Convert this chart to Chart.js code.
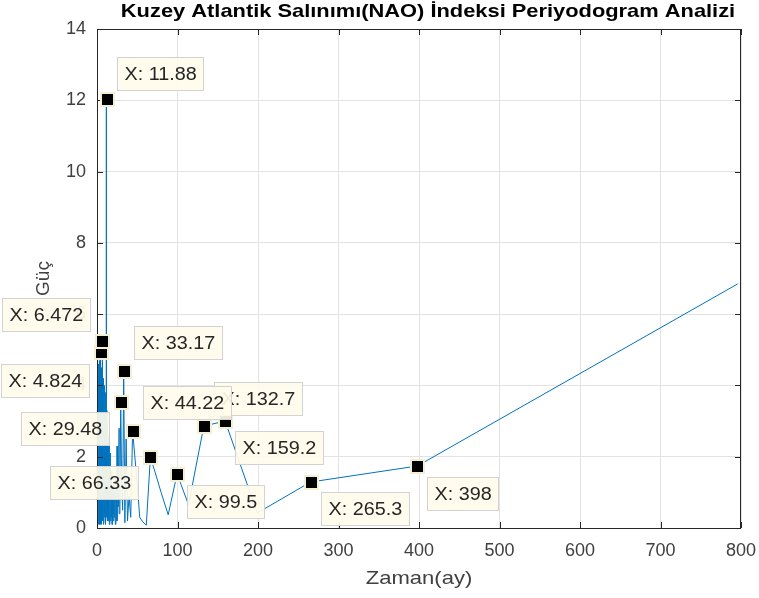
<!DOCTYPE html>
<html>
<head>
<meta charset="utf-8">
<script src="https://cdn.jsdelivr.net/npm/chart.js@4.4.1/dist/chart.umd.min.js"></script>
<style>
  html, body { margin: 0; padding: 0; background: #fff; }
</style>
</head>
<body>
<canvas id="grafikNAO" width="759" height="598"></canvas>
<script>
// Periyot (ay) ve güç değerleri
const periyot = [
    796, 398, 265.3, 199, 159.2, 132.7, 113.7, 99.5, 88.44, 79.6,
    72.36, 66.33, 61.23, 56.86, 53.07, 49.75, 46.82, 44.22, 41.89, 39.8,
    37.9, 36.18, 34.61, 33.17, 31.84, 30.62, 29.48, 28.43, 27.45, 26.53,
    25.68, 24.88, 24.12, 23.41, 22.74, 22.11, 21.51, 20.95, 20.41, 19.9,
    19.41, 18.95, 18.51, 18.09, 17.69, 17.3, 16.94, 16.58, 16.24, 15.92,
    15.61, 15.31, 15.02, 14.74, 14.47, 14.21, 13.96, 13.72, 13.49, 13.27,
    13.05, 12.84, 12.63, 12.44, 12.25, 12.06, 11.88, 11.71, 11.54, 11.37,
    11.21, 11.06, 10.9, 10.76, 10.61, 10.47, 10.34, 10.21, 10.08, 9.95,
    9.71, 9.48, 9.26, 9.05, 8.84, 8.65, 8.47, 8.29, 8.12, 7.96,
    7.8, 7.65, 7.51, 7.37, 7.24, 7.11, 6.98, 6.86, 6.75, 6.63,
    6.52, 6.472, 6.42, 6.32, 6.22, 6.12, 6.03, 5.94, 5.85, 5.77,
    5.69, 5.61, 5.53, 5.45, 5.38, 5.31, 5.24, 5.17, 5.1, 5.04,
    4.975, 4.91, 4.824, 4.74, 4.65, 4.57, 4.5, 4.42, 4.35, 4.28,
    4.21, 4.15, 4.08, 4.02, 3.96, 3.9, 3.85, 3.79, 3.74, 3.69,
    3.63, 3.59, 3.54, 3.49, 3.45, 3.4, 3.36, 3.32, 3.28, 3.24,
    3.2, 3.16, 3.12, 3.09, 3.05, 3.02, 2.98, 2.95, 2.92, 2.88,
    2.85, 2.82, 2.79, 2.76, 2.74, 2.71, 2.68, 2.65, 2.63, 2.6,
    2.58, 2.55, 2.53, 2.5, 2.48, 2.46, 2.43, 2.41, 2.39, 2.37,
    2.35, 2.33, 2.31, 2.29, 2.27, 2.25, 2.23, 2.21, 2.19, 2.17,
    2.16, 2.14, 2.12, 2.11, 2.09, 2.07, 2.06, 2.04, 2.03, 2.01,
    2.0
];

const guc = [
    6.85, 1.74, 1.29, 0.42, 3.00, 2.86, 0.65, 1.52, 0.37, 1.00,
    1.55, 1.99, 0.08, 0.17, 0.30, 1.30, 2.05, 2.72, 0.30, 0.90,
    0.20, 2.50, 0.15, 4.40, 0.50, 1.30, 3.54, 0.40, 2.80, 0.60,
    2.30, 0.20, 0.80, 0.10, 1.40, 0.30, 1.00, 0.20, 1.20, 0.40,
    1.10, 0.10, 0.90, 0.30, 1.60, 0.20, 1.00, 0.50, 2.10, 0.10,
    1.40, 0.60, 2.30, 0.20, 1.20, 0.40, 2.60, 0.30, 1.80, 0.70,
    3.00, 0.20, 2.00, 0.50, 3.30, 1.00, 12.03, 0.80, 2.40, 0.30,
    3.60, 0.60, 1.90, 0.20, 3.10, 0.70, 2.50, 0.10, 3.80, 0.90,
    3.40, 0.30, 2.70, 0.60, 4.00, 0.20, 3.10, 1.00, 4.20, 0.40,
    2.90, 0.10, 3.70, 0.80, 2.60, 0.30, 4.30, 0.50, 3.20, 0.20,
    3.90, 5.25, 0.70, 4.10, 0.30, 3.00, 0.90, 4.40, 0.20, 3.50,
    0.60, 2.80, 0.10, 4.00, 0.50, 3.30, 1.10, 4.50, 0.30, 2.90,
    0.80, 3.80, 4.94, 0.40, 3.60, 0.20, 4.30, 0.90, 3.10, 0.30,
    4.60, 0.50, 2.70, 0.10, 4.10, 0.70, 3.40, 0.20, 4.50, 1.00,
    2.90, 0.30, 4.00, 0.60, 3.70, 0.10, 4.40, 0.80, 3.00, 0.40,
    4.20, 0.20, 3.50, 0.90, 4.60, 0.30, 3.20, 0.50, 4.00, 0.10,
    3.80, 0.70, 4.50, 0.20, 3.10, 1.00, 4.30, 0.40, 3.60, 0.20,
    4.70, 0.60, 3.30, 0.30, 4.10, 0.80, 3.90, 0.10, 4.40, 0.50,
    3.00, 0.30, 4.60, 0.90, 3.70, 0.20, 4.20, 0.60, 3.40, 0.10,
    4.50, 0.40, 3.80, 0.70, 4.30, 0.20, 3.20, 0.50, 4.00, 0.30,
    2.50
];

// Veri imleçleri (datatip) olan periyotlar, çizim sırasına göre
const imlecPeriyot = [398, 265.3, 159.2, 132.7, 44.22, 99.5, 66.33, 29.48, 33.17, 4.824, 6.472, 11.88];
const imlecEtiket  = ['398', '265.3', '159.2', '132.7', '44.22', '99.5', '66.33', '29.48', '33.17', '4.824', '6.472', '11.88'];

const xTikler = [0, 100, 200, 300, 400, 500, 600, 700, 800];
const yTikler = [0, 2, 4, 6, 8, 10, 12, 14];

// Etiket kutusunun imlece göre yeri: sag = imlecin sağında, dy = dikey kayma
const imlecYer = {
    '398':   { sag: true,  dy: 11 },
    '265.3': { sag: true,  dy: 10 },
    '159.2': { sag: true,  dy: 10 },
    '132.7': { sag: true,  dy: -44 },
    '44.22': { sag: true,  dy: -45 },
    '99.5':  { sag: true,  dy: 11 },
    '66.33': { sag: false, dy: 9 },
    '29.48': { sag: false, dy: 10 },
    '33.17': { sag: true,  dy: -45 },
    '4.824': { sag: false, dy: 12 },
    '6.472': { sag: false, dy: -43 },
    '11.88': { sag: true,  dy: -42 },
};

const YAZI = '"Liberation Sans", Arial, sans-serif';
const EKSEN_RENK = '#262626';

// Yatayda biraz geniş yazı (orijinal görüntü yatayda gerilmiş)
function genisYaz(ctx, metin, x, y, oran) {
    ctx.save();
    ctx.translate(x, y);
    ctx.scale(oran, 1);
    ctx.fillText(metin, 0, 0);
    ctx.restore();
}

const eksenCizimi = {
    id: 'eksenCizimi',
    afterDraw(chart) {
        const { ctx, chartArea: a } = chart;
        const sx = chart.scales.x;
        const sy = chart.scales.y;
        ctx.save();

        // Çerçeve ve içe dönük çentikler
        ctx.strokeStyle = EKSEN_RENK;
        ctx.lineWidth = 1;
        ctx.strokeRect(a.left + 0.5, a.top + 0.5, a.right - a.left - 1, a.bottom - a.top);
        ctx.beginPath();
        xTikler.forEach(t => {
            const px = Math.round(sx.getPixelForValue(t)) + 0.5;
            ctx.moveTo(px, a.bottom); ctx.lineTo(px, a.bottom - 6);
            ctx.moveTo(px, a.top);    ctx.lineTo(px, a.top + 6);
        });
        yTikler.forEach(t => {
            const py = Math.round(sy.getPixelForValue(t)) + 0.5;
            ctx.moveTo(a.left, py);  ctx.lineTo(a.left + 6, py);
            ctx.moveTo(a.right, py); ctx.lineTo(a.right - 6, py);
        });
        ctx.stroke();

        // Başlık ve eksen adları
        ctx.fillStyle = '#000';
        ctx.font = 'bold 19px ' + YAZI;
        ctx.textAlign = 'center';
        ctx.textBaseline = 'middle';
        genisYaz(ctx, 'Kuzey Atlantik Salınımı(NAO) İndeksi Periyodogram Analizi', 428, 12, 1.15);

        ctx.fillStyle = '#404040';
        ctx.font = '19px ' + YAZI;
        genisYaz(ctx, 'Zaman(ay)', (a.left + a.right) / 2, 579, 1.16);
        ctx.save();
        ctx.translate(44, (a.top + a.bottom) / 2);
        ctx.rotate(-Math.PI / 2);
        ctx.fillText('Güç', 0, 0);
        ctx.restore();

        // Veri imleçleri
        ctx.font = '18px ' + YAZI;
        imlecPeriyot.forEach((p, n) => {
            const i = periyot.findIndex(v => Math.abs(v - p) < 0.001);
            if (i < 0) return;
            const mx = sx.getPixelForValue(periyot[i]);
            const my = sy.getPixelForValue(guc[i]);
            const metin = 'X: ' + imlecEtiket[n];
            const yer = imlecYer[imlecEtiket[n]];
            const yw = ctx.measureText(metin).width * 1.1;
            const w = Math.round(yw) + 15;
            const h = 34;
            const bx = Math.round(yer.sag ? mx + 10 : mx - 11 - w);
            const by = Math.round(my + yer.dy);

            // işaret
            ctx.fillStyle = '#f4efd2';
            ctx.fillRect(Math.round(mx) - 7, Math.round(my) - 7, 15, 15);
            ctx.fillStyle = '#000';
            ctx.fillRect(Math.round(mx) - 5, Math.round(my) - 5, 11, 11);

            // kutu
            ctx.globalAlpha = 0.92;
            ctx.fillStyle = '#fffcec';
            ctx.fillRect(bx, by, w, h);
            ctx.globalAlpha = 1;
            ctx.strokeStyle = '#d2d2d2';
            ctx.strokeRect(bx + 0.5, by + 0.5, w - 1, h - 1);
            ctx.fillStyle = '#262626';
            ctx.textAlign = 'left';
            genisYaz(ctx, metin, bx + 7.5, by + h / 2 + 1, 1.1);
        });

        ctx.restore();
    }
};

const ctx = document.getElementById('grafikNAO').getContext('2d');

new Chart(ctx, {
    type: 'line',
    data: {
        datasets: [{
            data: periyot.map((p, i) => ({ x: p, y: guc[i] })),
            borderColor: '#0072BD',
            borderWidth: 1,
            pointRadius: 0,
            tension: 0,
            fill: false
        }]
    },
    options: {
        responsive: false,
        animation: false,
        events: [],
        layout: { padding: { top: 29, right: 18, left: 0, bottom: 0 } },
        plugins: {
            legend: { display: false },
            tooltip: { enabled: false }
        },
        scales: {
            x: {
                type: 'linear',
                min: 0,
                max: 800,
                afterBuildTicks: s => { s.ticks = xTikler.map(v => ({ value: v })); },
                afterFit: s => { s.height = 70; s.paddingLeft = 0; s.paddingRight = 0; },
                ticks: {
                    color: '#404040',
                    font: { size: 18, family: YAZI },
                    padding: 12,
                    maxRotation: 0
                },
                grid: { color: '#e3e3e3', drawTicks: false },
                border: { display: false }
            },
            y: {
                min: 0,
                max: 14,
                afterBuildTicks: s => { s.ticks = yTikler.map(v => ({ value: v })); },
                afterFit: s => { s.width = 97; s.paddingTop = 0; s.paddingBottom = 0; },
                ticks: {
                    color: '#404040',
                    font: { size: 18, family: YAZI },
                    padding: 11
                },
                grid: { color: '#e3e3e3', drawTicks: false },
                border: { display: false }
            }
        }
    },
    plugins: [eksenCizimi]
});
</script>
</body>
</html>
